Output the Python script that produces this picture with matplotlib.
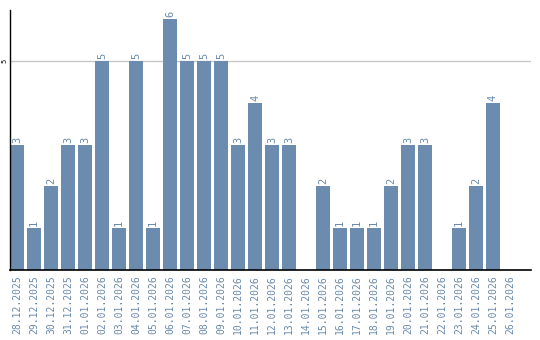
import numpy as np
import matplotlib
matplotlib.use("Agg")
import matplotlib.pyplot as plt

dates = ["28.12.2025", "29.12.2025", "30.12.2025", "31.12.2025", "01.01.2026",
         "02.01.2026", "03.01.2026", "04.01.2026", "05.01.2026", "06.01.2026",
         "07.01.2026", "08.01.2026", "09.01.2026", "10.01.2026", "11.01.2026",
         "12.01.2026", "13.01.2026", "14.01.2026", "15.01.2026", "16.01.2026",
         "17.01.2026", "18.01.2026", "19.01.2026", "20.01.2026", "21.01.2026",
         "22.01.2026", "23.01.2026", "24.01.2026", "25.01.2026", "26.01.2026"]
counts = [3, 1, 2, 3, 3, 5, 1, 5, 1, 6, 5, 5, 5, 3, 4, 3, 3, 0, 2, 1,
          1, 1, 2, 3, 3, 0, 1, 2, 4, 0]

bar_color = "#6b8cae"
text_color = "#6a8aaa"
mono = "DejaVu Sans Mono"

fig = plt.figure(figsize=(5.4, 3.4), dpi=100)
ax = fig.add_axes([10 / 540, 70 / 340, 521 / 540, 260 / 340])

x = np.arange(len(dates))
ax.bar(x, counts, width=0.82, color=bar_color, zorder=2)

for xi, v in zip(x, counts):
    if v > 0:
        ax.text(xi, v + 0.05, str(v), rotation=90, ha="center", va="bottom",
                fontsize=7.5, color=text_color, family=mono)

ax.set_xlim(-0.41, 30.24)
ax.set_ylim(0, 6.22)
ax.axhline(5, color="#c8c8c8", linewidth=1, zorder=1)

ax.set_yticks([5])
ax.set_yticklabels(["5"], rotation=90, fontsize=5, family=mono, va="center")
ax.tick_params(axis="y", length=0, pad=2)

ax.set_xticks(x)
ax.set_xticklabels(dates, rotation=90, fontsize=7, color=text_color, family=mono)
ax.tick_params(axis="x", length=0, pad=4)

for s in ["top", "right"]:
    ax.spines[s].set_visible(False)
ax.spines["left"].set_linewidth(1)
ax.spines["bottom"].set_linewidth(1.2)

fig.savefig("out.png", dpi=100)
